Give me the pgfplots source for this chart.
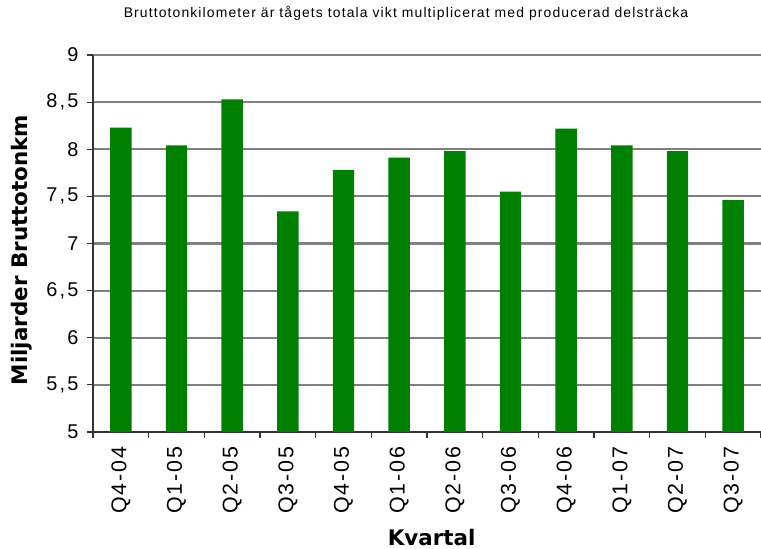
\documentclass[border=0pt]{standalone}
\usepackage{fontspec}
\setmainfont{Liberation Sans}
\newfontfamily\tickfont[LetterSpace=11]{Liberation Sans}
\newfontfamily\xtickfont[LetterSpace=9]{Liberation Sans}
\newfontfamily\titlefont[LetterSpace=8]{Liberation Sans}
\newfontfamily\labfont{DejaVu Sans}
\usepackage{pgfplots}
\pgfplotsset{compat=1.18}
\definecolor{bargreen}{HTML}{008000}
\definecolor{gridgray}{HTML}{808080}
\definecolor{axisdark}{HTML}{333333}
\begin{document}
\begin{tikzpicture}
\begin{axis}[
  at={(0,0)}, anchor=south west,
  scale only axis, width=668bp, height=377bp,
  xmin=-0.5, xmax=11.5, ymin=5, ymax=9,
  axis lines=left,
  axis line style={-, draw=axisdark, line width=1.3bp},
  ytick={5,5.5,...,9},
  yticklabels={5,{5,5},6,{6,5},7,{7,5},8,{8,5},9},
  minor ytick={5,5.5,...,9},
  xtick={0,...,11},
  xticklabels={Q4-04,Q1-05,Q2-05,Q3-05,Q4-05,Q1-06,Q2-06,Q3-06,Q4-06,Q1-07,Q2-07,Q3-07},
  minor xtick={-0.5,0.5,...,11.5},
  tick align=outside,
  major tick length=0pt,
  minor tick length=5.5bp,
  every tick/.style={axisdark, line width=1.1bp},
  ymajorgrids,
  major grid style={gridgray, line width=2.2bp},
  yticklabel style={font=\tickfont\fontsize{20}{24}\selectfont, xshift=-11bp},
  xticklabel style={font=\xtickfont\fontsize{21.5}{24}\selectfont, rotate=90, anchor=east, yshift=0bp, xshift=-11bp},
  /pgf/number format/assume math mode=true,
  title={Bruttotonkilometer är tågets totala vikt multiplicerat med producerad delsträcka},
  title style={font=\titlefont\fontsize{14}{16}\selectfont, at={(rel axis cs:0.4686,1.0955)}, anchor=center},
  ylabel={Miljarder Bruttotonkm},
  ylabel style={font=\labfont\bfseries\fontsize{21.5}{25}\selectfont, at={(rel axis cs:-0.1063,0.483)}, anchor=center, rotate=0},
  xlabel={Kvartal},
  xlabel style={font=\labfont\bfseries\fontsize{21.5}{25}\selectfont, at={(rel axis cs:0.507,-0.279)}, anchor=center},
  clip=false,
]
\addplot[ybar, fill=bargreen, draw=none, bar width=21.4bp, bar shift=0pt]
  coordinates {(0,8.23) (1,8.04) (2,8.53) (3,7.34) (4,7.78) (5,7.91) (6,7.98) (7,7.55) (8,8.22) (9,8.04) (10,7.98) (11,7.46)};
\end{axis}
\pgfresetboundingbox
\path[use as bounding box] (-93bp,-117bp) rectangle (668bp,432bp);
\end{tikzpicture}
\end{document}
